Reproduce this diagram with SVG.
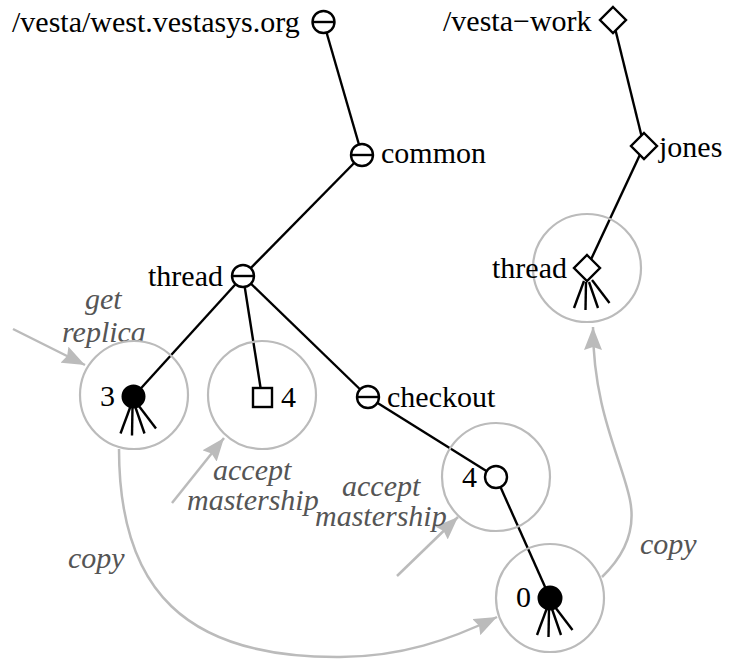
<svg xmlns="http://www.w3.org/2000/svg" width="729" height="659" viewBox="0 0 729 659">
<style>
.edge{stroke:#000;stroke-width:2.4;fill:none}
.nd{stroke:#000;stroke-width:2.4;fill:#fff}
.fill{stroke:#000;stroke-width:2;fill:#000}
.rk{stroke:#000;stroke-width:2.4;fill:none}
.ring{stroke:#bbb;stroke-width:2.2;fill:none}
.ga{stroke:#bbb;stroke-width:2.5;fill:none}
.lbl{font-family:"Liberation Serif","Times New Roman",serif;font-size:30px;fill:#000}
.it{font-family:"Liberation Serif","Times New Roman",serif;font-size:30px;font-style:italic;fill:#555}
</style>
<defs>
<marker id="ah" markerUnits="userSpaceOnUse" markerWidth="24" markerHeight="18" refX="23" refY="9" orient="auto">
<path d="M0,0 L23,9 L0,18 L3,9 z" fill="#bbb"/>
</marker>
<g id="rake">
<line x1="-3" y1="10" x2="-13" y2="37"/>
<line x1="-1" y1="11" x2="-1.5" y2="39"/>
<line x1="2" y1="11" x2="11" y2="37"/>
<line x1="5" y1="9" x2="22.5" y2="32"/>
</g>
</defs>

<g id="connectors">
<line class="edge" x1="323.5" y1="22" x2="362" y2="155"/>
<line class="edge" x1="362" y1="155" x2="243" y2="276"/>
<line class="edge" x1="243" y1="276" x2="133.5" y2="396.5"/>
<line class="edge" x1="243" y1="276" x2="262" y2="397"/>
<line class="edge" x1="243" y1="276" x2="368" y2="397"/>
<line class="edge" x1="368" y1="397" x2="496" y2="477"/>
<line class="edge" x1="496" y1="477" x2="550" y2="598"/>
<line class="edge" x1="613" y1="20" x2="644" y2="146"/>
<line class="edge" x1="644" y1="146" x2="587" y2="268"/>
</g>

<g id="annotations">
<line class="ga" x1="13" y1="329" x2="85" y2="365" marker-end="url(#ah)"/>
<text class="it" x="85" y="309">get</text>
<text class="it" x="62" y="342">replica</text>
<line class="ga" x1="172" y1="503" x2="224" y2="438" marker-end="url(#ah)"/>
<text class="it" x="213" y="480">accept</text>
<text class="it" x="187" y="510">mastership</text>
<line class="ga" x1="397" y1="576" x2="458" y2="517" marker-end="url(#ah)"/>
<text class="it" x="342" y="496">accept</text>
<text class="it" x="315" y="526">mastership</text>
<path class="ga" d="M119,449 C119,590 185,658 340,657 C400,657 450,640 497,617" marker-end="url(#ah)"/>
<text class="it" x="68" y="568">copy</text>
<path class="ga" d="M602,577 C625,555 636,530 630,500 C622,460 593,410 593,327" marker-end="url(#ah)"/>
<text class="it" x="640" y="554">copy</text>
</g>

<g id="root">
<circle class="nd" cx="323.5" cy="22" r="11"/>
<line class="edge" x1="312.5" y1="22" x2="334.5" y2="22"/>
<text class="lbl" x="12" y="32">/vesta/west.vestasys.org</text>
</g>
<g id="common">
<circle class="nd" cx="362" cy="155" r="11"/>
<line class="edge" x1="351" y1="155" x2="373" y2="155"/>
<text class="lbl" x="381" y="163">common</text>
</g>
<g id="thread">
<circle class="nd" cx="243" cy="276" r="11"/>
<line class="edge" x1="232" y1="276" x2="254" y2="276"/>
<text class="lbl" x="148" y="286">thread</text>
</g>
<g id="replica3">
<circle class="ring" cx="134" cy="395" r="54"/>
<circle class="fill" cx="133.5" cy="396.5" r="11"/>
<use href="#rake" class="rk" transform="translate(133.5,396.5)"/>
<text class="lbl" x="100" y="406">3</text>
</g>
<g id="master4">
<circle class="ring" cx="262" cy="395" r="54"/>
<rect class="nd" x="253" y="388" width="19" height="19"/>
<text class="lbl" x="281" y="407">4</text>
</g>
<g id="checkout">
<circle class="nd" cx="368" cy="397" r="11"/>
<line class="edge" x1="357" y1="397" x2="379" y2="397"/>
<text class="lbl" x="387" y="407">checkout</text>
</g>
<g id="ver4">
<circle class="ring" cx="496" cy="477" r="54"/>
<circle class="nd" cx="496" cy="477" r="11"/>
<text class="lbl" x="462" y="487">4</text>
</g>
<g id="ver0">
<circle class="ring" cx="550" cy="598" r="54"/>
<circle class="fill" cx="550" cy="598" r="11.5"/>
<use href="#rake" class="rk" transform="translate(550,598)"/>
<text class="lbl" x="516" y="607">0</text>
</g>
<g id="vestawork">
<path class="nd" d="M613,7 L626,20 L613,33 L600,20 z"/>
<text class="lbl" x="443" y="31">/vesta−work</text>
</g>
<g id="jones">
<path class="nd" d="M644,133 L657,146 L644,159 L631,146 z"/>
<text class="lbl" x="659" y="157">jones</text>
</g>
<g id="workthread">
<circle class="ring" cx="587" cy="268" r="54"/>
<use href="#rake" class="rk" transform="translate(587,271)"/>
<path class="nd" d="M587,255 L600,268 L587,281 L574,268 z"/>
<text class="lbl" x="492" y="278">thread</text>
</g>
</svg>
